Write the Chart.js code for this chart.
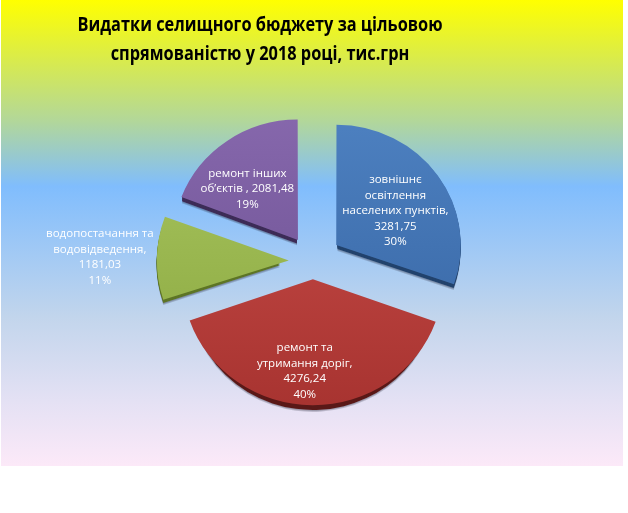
<!DOCTYPE html>
<html>
<head>
<meta charset="utf-8">
<script src="https://cdn.jsdelivr.net/npm/chart.js@4.4.1/dist/chart.umd.min.js"></script>
<style>
  html, body { margin: 0; padding: 0; background: #ffffff; }
  #wrap { width: 628px; height: 513px; }
</style>
</head>
<body>
<div id="wrap"><canvas id="c" width="628" height="513"></canvas></div>
<script>
// ---- data ----
const titleLines = ['Видатки селищного бюджету за цільовою', 'спрямованістю у 2018 році, тис.грн'];
const categories = ['зовнішнє освітлення населених пунктів', 'ремонт та утримання доріг', 'водопостачання та водовідведення', 'ремонт інших об’єктів'];
const categoryLines = [
  ['зовнішнє', 'освітлення', 'населених пунктів,'],
  ['ремонт та', 'утримання доріг,'],
  ['водопостачання та', 'водовідведення,'],
  ['ремонт інших', 'об’єктів ,']
];
const values = [3281.75, 4276.24, 1181.03, 2081.48];

// ---- styles ----
const faceTop = ['#5084c4', '#cc4f4b', '#abc862', '#8a6bb0'];
const faceBottom = ['#3462a0', '#a3302d', '#87a43c', '#684d8e'];
const sideColor = ['#22436d', '#5a1918', '#5d7526', '#3d2c57'];
const offsets = [114, 76, 97, 106];
const tiltY = 0.965;
// label placement: [radius factor, angle adjust in degrees, inline value?, dx, dy]
const labelPlace = [[0.57, 4, false, -2, 2], [0.71, 5, false, 0, 1], [1.48, -2, false, 2, -6], [0.61, -11, true, 4, 1]];
const fontFamily = '"Open Sans", "Noto Sans", sans-serif';

const total = values.reduce((a, b) => a + b, 0);
const fmt = v => v.toFixed(2).replace('.', ',');

function sliceDisplacement(arc) {
  const off = (arc.options.offset || 0) / 4;
  const fix = 1 - Math.sin(Math.min(Math.PI, arc.circumference || 0));
  return off + off * fix;
}

const bgPlugin = {
  id: 'bg',
  beforeDraw(chart) {
    const ctx = chart.ctx;
    ctx.save();
    ctx.fillStyle = '#ffffff';
    ctx.fillRect(0, 0, chart.width, chart.height);
    const g = ctx.createLinearGradient(0, 0, 0, 466);
    g.addColorStop(0, '#ffff00');
    g.addColorStop(0.26, '#b2d79a');
    g.addColorStop(0.40, '#80bdfd');
    g.addColorStop(0.68, '#c2d5ec');
    g.addColorStop(0.86, '#e4e1f4');
    g.addColorStop(1, '#fce9f8');
    ctx.fillStyle = g;
    ctx.fillRect(1, 0, 622, 466);
    // title
    ctx.fillStyle = '#000000';
    ctx.font = 'bold 19px ' + fontFamily;
    ctx.textAlign = 'center';
    ctx.textBaseline = 'middle';
    const w = ctx.measureText(titleLines[0]).width;
    const sx = 365 / w;
    ctx.translate(260, 0);
    ctx.scale(sx, 1);
    ctx.fillText(titleLines[0], 0, 26);
    ctx.fillText(titleLines[1], 0, 55);
    ctx.restore();
  }
};

const depthPlugin = {
  id: 'depth',
  beforeDatasetsDraw(chart) {
    const ctx = chart.ctx;
    const meta = chart.getDatasetMeta(0);
    const area = chart.chartArea;
    const cyc = (area.top + area.bottom) / 2;
    ctx.save();
    ctx.translate(0, cyc);
    ctx.scale(1, tiltY);
    ctx.translate(0, -cyc);
    meta.data.forEach((arc, i) => {
      const d = sliceDisplacement(arc);
      const mid = (arc.startAngle + arc.endAngle) / 2;
      const cx = arc.x + Math.cos(mid) * d;
      const cy = arc.y + Math.sin(mid) * d;
      for (let k = 7; k >= 1; k--) {
        ctx.beginPath();
        ctx.moveTo(cx, cy + k);
        ctx.arc(cx, cy + k, arc.outerRadius, arc.startAngle, arc.endAngle);
        ctx.closePath();
        ctx.fillStyle = k >= 6 ? 'rgba(40,40,60,0.22)' : sideColor[i];
        ctx.fill();
      }
    });
    // keep the transform active while the library draws the slices
  },
  afterDatasetsDraw(chart) {
    const ctx = chart.ctx;
    ctx.restore();
    const meta = chart.getDatasetMeta(0);
    const area = chart.chartArea;
    const cyc = (area.top + area.bottom) / 2;
    ctx.save();
    ctx.fillStyle = '#ffffff';
    ctx.font = '11.5px ' + fontFamily;
    ctx.textAlign = 'center';
    ctx.textBaseline = 'middle';
    meta.data.forEach((arc, i) => {
      const d = sliceDisplacement(arc);
      const mid = (arc.startAngle + arc.endAngle) / 2;
      const cx = arc.x + Math.cos(mid) * d;
      const cy = arc.y + Math.sin(mid) * d;
      const [f, adj, inlineVal, dx, dy] = labelPlace[i];
      const a = mid + adj * Math.PI / 180;
      const lx = cx + Math.cos(a) * arc.outerRadius * f + dx;
      const lyRaw = cy + Math.sin(a) * arc.outerRadius * f;
      const ly = cyc + (lyRaw - cyc) * tiltY + dy;
      const lines = categoryLines[i].slice();
      const pct = Math.round(values[i] / total * 100) + '%';
      if (inlineVal) {
        lines[lines.length - 1] = lines[lines.length - 1] + ' ' + fmt(values[i]);
      } else {
        lines.push(fmt(values[i]));
      }
      lines.push(pct);
      const lh = 15.5;
      const y0 = ly - (lines.length - 1) * lh / 2;
      lines.forEach((t, j) => ctx.fillText(t, lx, y0 + j * lh));
    });
    ctx.restore();
  }
};

function faceColor(context) {
  const i = context.dataIndex;
  const chart = context.chart;
  const area = chart.chartArea;
  if (!area) return faceTop[i];
  const cy = (area.top + area.bottom) / 2;
  const g = chart.ctx.createLinearGradient(0, cy - 170, 0, cy + 170);
  g.addColorStop(0, faceTop[i]);
  g.addColorStop(1, faceBottom[i]);
  return g;
}

new Chart(document.getElementById('c'), {
  type: 'pie',
  data: {
    labels: categories,
    datasets: [{
      data: values,
      backgroundColor: faceColor,
      borderWidth: 0,
      offset: offsets,
      hoverOffset: 0
    }]
  },
  options: {
    responsive: false,
    animation: false,
    radius: 123,
    layout: { padding: { left: 0, right: 2, top: 9, bottom: 0 } },
    plugins: {
      legend: { display: false },
      tooltip: { enabled: false },
      title: { display: false }
    }
  },
  plugins: [bgPlugin, depthPlugin]
});
</script>
</body>
</html>
